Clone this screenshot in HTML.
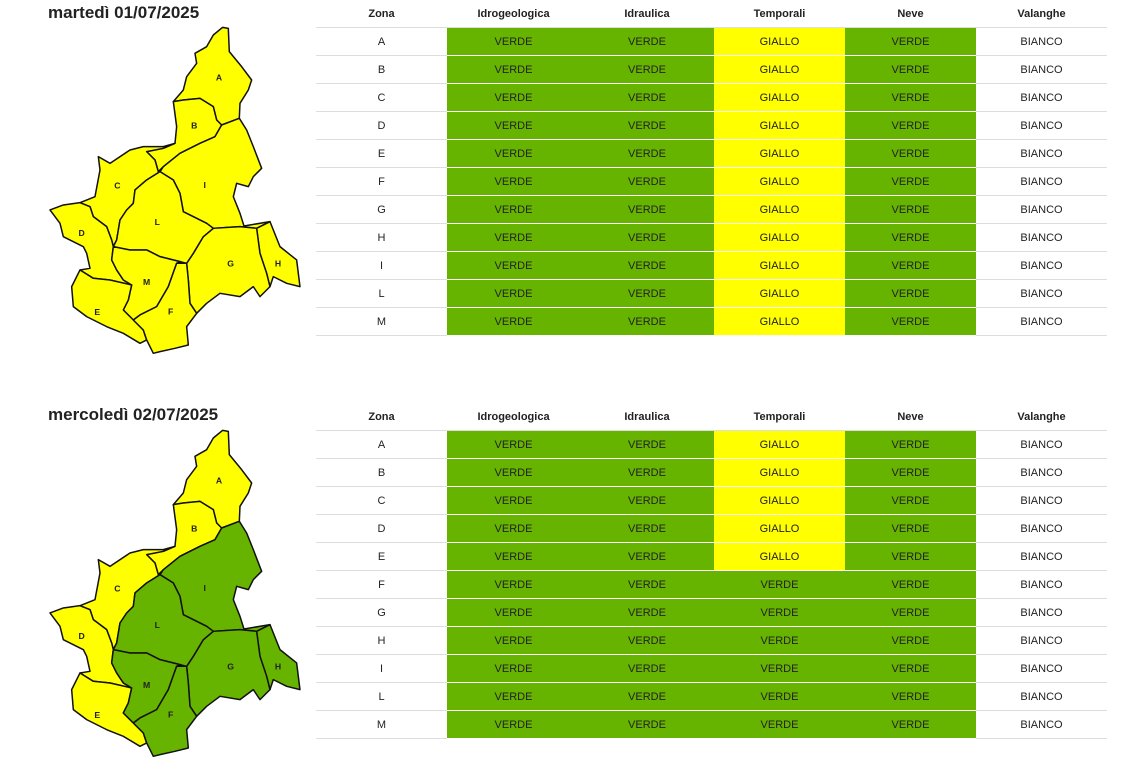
<!DOCTYPE html>
<html><head><meta charset="utf-8"><style>
body{margin:0;width:1131px;height:772px;background:#fff;font-family:"Liberation Sans",sans-serif;position:relative;overflow:hidden}
.t{position:absolute;left:48px;font-weight:bold;font-size:17px;color:#222}
table{position:absolute;left:316px;border-collapse:collapse;table-layout:fixed;width:791px;font-size:11px;color:#222}
th{height:27px;font-weight:bold;font-size:11px;text-align:center;border-bottom:1px solid #ddd;padding:0}
td{height:27px;text-align:center;border-bottom:1px solid #ddd;padding:0}
td.g{background:#66b300;border-bottom:1px solid #fff}
td.y{background:#ffff00;border-bottom:1px solid #fff}
svg{position:absolute;left:0}
</style></head><body>
<div class="t" style="top:3px">martedì 01/07/2025</div>
<div class="t" style="top:405px">mercoledì 02/07/2025</div>

<table style="top:0">
<colgroup><col style="width:131px"><col style="width:133px"><col style="width:134px"><col style="width:131px"><col style="width:131px"><col style="width:131px"></colgroup>
<tr><th>Zona</th><th>Idrogeologica</th><th>Idraulica</th><th>Temporali</th><th>Neve</th><th>Valanghe</th></tr>
<tr><td>A</td><td class="g">VERDE</td><td class="g">VERDE</td><td class="y">GIALLO</td><td class="g">VERDE</td><td>BIANCO</td></tr>
<tr><td>B</td><td class="g">VERDE</td><td class="g">VERDE</td><td class="y">GIALLO</td><td class="g">VERDE</td><td>BIANCO</td></tr>
<tr><td>C</td><td class="g">VERDE</td><td class="g">VERDE</td><td class="y">GIALLO</td><td class="g">VERDE</td><td>BIANCO</td></tr>
<tr><td>D</td><td class="g">VERDE</td><td class="g">VERDE</td><td class="y">GIALLO</td><td class="g">VERDE</td><td>BIANCO</td></tr>
<tr><td>E</td><td class="g">VERDE</td><td class="g">VERDE</td><td class="y">GIALLO</td><td class="g">VERDE</td><td>BIANCO</td></tr>
<tr><td>F</td><td class="g">VERDE</td><td class="g">VERDE</td><td class="y">GIALLO</td><td class="g">VERDE</td><td>BIANCO</td></tr>
<tr><td>G</td><td class="g">VERDE</td><td class="g">VERDE</td><td class="y">GIALLO</td><td class="g">VERDE</td><td>BIANCO</td></tr>
<tr><td>H</td><td class="g">VERDE</td><td class="g">VERDE</td><td class="y">GIALLO</td><td class="g">VERDE</td><td>BIANCO</td></tr>
<tr><td>I</td><td class="g">VERDE</td><td class="g">VERDE</td><td class="y">GIALLO</td><td class="g">VERDE</td><td>BIANCO</td></tr>
<tr><td>L</td><td class="g">VERDE</td><td class="g">VERDE</td><td class="y">GIALLO</td><td class="g">VERDE</td><td>BIANCO</td></tr>
<tr><td>M</td><td class="g">VERDE</td><td class="g">VERDE</td><td class="y">GIALLO</td><td class="g">VERDE</td><td>BIANCO</td></tr>
</table>

<table style="top:403px">
<colgroup><col style="width:131px"><col style="width:133px"><col style="width:134px"><col style="width:131px"><col style="width:131px"><col style="width:131px"></colgroup>
<tr><th>Zona</th><th>Idrogeologica</th><th>Idraulica</th><th>Temporali</th><th>Neve</th><th>Valanghe</th></tr>
<tr><td>A</td><td class="g">VERDE</td><td class="g">VERDE</td><td class="y">GIALLO</td><td class="g">VERDE</td><td>BIANCO</td></tr>
<tr><td>B</td><td class="g">VERDE</td><td class="g">VERDE</td><td class="y">GIALLO</td><td class="g">VERDE</td><td>BIANCO</td></tr>
<tr><td>C</td><td class="g">VERDE</td><td class="g">VERDE</td><td class="y">GIALLO</td><td class="g">VERDE</td><td>BIANCO</td></tr>
<tr><td>D</td><td class="g">VERDE</td><td class="g">VERDE</td><td class="y">GIALLO</td><td class="g">VERDE</td><td>BIANCO</td></tr>
<tr><td>E</td><td class="g">VERDE</td><td class="g">VERDE</td><td class="y">GIALLO</td><td class="g">VERDE</td><td>BIANCO</td></tr>
<tr><td>F</td><td class="g">VERDE</td><td class="g">VERDE</td><td class="g">VERDE</td><td class="g">VERDE</td><td>BIANCO</td></tr>
<tr><td>G</td><td class="g">VERDE</td><td class="g">VERDE</td><td class="g">VERDE</td><td class="g">VERDE</td><td>BIANCO</td></tr>
<tr><td>H</td><td class="g">VERDE</td><td class="g">VERDE</td><td class="g">VERDE</td><td class="g">VERDE</td><td>BIANCO</td></tr>
<tr><td>I</td><td class="g">VERDE</td><td class="g">VERDE</td><td class="g">VERDE</td><td class="g">VERDE</td><td>BIANCO</td></tr>
<tr><td>L</td><td class="g">VERDE</td><td class="g">VERDE</td><td class="g">VERDE</td><td class="g">VERDE</td><td>BIANCO</td></tr>
<tr><td>M</td><td class="g">VERDE</td><td class="g">VERDE</td><td class="g">VERDE</td><td class="g">VERDE</td><td>BIANCO</td></tr>
</table>

<svg width="320" height="772" viewBox="0 0 320 772">
<defs>
<g id="lab" font-family="Liberation Sans, sans-serif" font-weight="bold" font-size="26" fill="#222" text-anchor="middle">
<text x="537" y="182">A</text><text x="463" y="325">B</text><text x="232" y="505">C</text><text x="125" y="648">D</text><text x="172" y="885">E</text><text x="392" y="883">F</text><text x="572" y="740">G</text><text x="714" y="740">H</text><text x="494" y="504">I</text><text x="352" y="615">L</text><text x="320" y="795">M</text>
</g>
</defs>
<g transform="translate(40,20) scale(0.3333)" stroke="#111" stroke-width="4.5" stroke-linejoin="round">
<g fill="#ffff00">
<polygon points="520,45 548,22 565,25 568,95 605,140 635,180 625,210 600,250 598,295 545,315 530,300 520,260 480,235 430,240 400,245 430,210 440,170 470,130 465,100 500,80"/>
<polygon points="400,245 430,240 480,235 520,260 530,300 545,315 525,350 480,370 420,400 370,440 355,455 345,420 320,395 370,385 405,370 410,320"/>
<polygon points="545,315 598,295 620,330 640,380 665,445 640,470 625,500 590,490 580,530 600,580 612,618 690,605 650,625 600,620 520,625 500,610 430,575 420,520 400,480 360,455 370,440 420,400 480,370 525,350"/>
<polygon points="650,625 690,605 720,680 770,720 780,800 740,790 700,770 690,800 680,760 660,700"/>
<polygon points="520,625 600,620 650,625 660,700 680,760 690,800 660,830 640,800 600,830 540,820 500,850 470,880 450,850 445,780 440,730 460,700 490,650"/>
<polygon points="120,548 165,530 180,450 175,410 210,430 270,390 310,380 370,380 405,370 370,385 320,395 345,420 355,455 360,455 320,480 285,510 280,550 260,570 240,600 230,660 220,680 215,660 200,620 160,590 150,560"/>
<polygon points="360,455 400,480 420,520 430,575 500,610 520,625 490,650 460,700 440,730 420,725 360,710 320,690 270,690 220,680 230,660 240,600 260,570 280,550 285,510 320,480"/>
<polygon points="30,570 70,555 120,548 150,560 160,590 200,620 215,660 220,680 215,720 230,750 250,780 275,795 210,780 160,775 120,750 150,745 140,700 130,680 70,650 60,610"/>
<polygon points="220,680 270,690 320,690 360,710 420,725 410,730 385,800 350,860 300,885 280,900 250,870 265,840 275,795 250,780 230,750 215,720"/>
<polygon points="120,750 160,775 210,780 275,795 265,840 250,870 280,900 310,930 320,960 300,970 250,940 200,920 140,890 100,860 95,800"/>
<polygon points="410,730 440,730 445,780 450,850 470,880 440,920 445,975 405,985 360,995 340,1000 320,960 310,930 280,900 300,885 350,860 385,800"/>
</g>
<use href="#lab" stroke="none"/>
</g>
<g transform="translate(40,423) scale(0.3333)" stroke="#111" stroke-width="4.5" stroke-linejoin="round">
<g fill="#ffff00">
<polygon points="520,45 548,22 565,25 568,95 605,140 635,180 625,210 600,250 598,295 545,315 530,300 520,260 480,235 430,240 400,245 430,210 440,170 470,130 465,100 500,80"/>
<polygon points="400,245 430,240 480,235 520,260 530,300 545,315 525,350 480,370 420,400 370,440 355,455 345,420 320,395 370,385 405,370 410,320"/>
<polygon points="120,548 165,530 180,450 175,410 210,430 270,390 310,380 370,380 405,370 370,385 320,395 345,420 355,455 360,455 320,480 285,510 280,550 260,570 240,600 230,660 220,680 215,660 200,620 160,590 150,560"/>
<polygon points="30,570 70,555 120,548 150,560 160,590 200,620 215,660 220,680 215,720 230,750 250,780 275,795 210,780 160,775 120,750 150,745 140,700 130,680 70,650 60,610"/>
<polygon points="120,750 160,775 210,780 275,795 265,840 250,870 280,900 310,930 320,960 300,970 250,940 200,920 140,890 100,860 95,800"/>
</g>
<g fill="#66b300">
<polygon points="545,315 598,295 620,330 640,380 665,445 640,470 625,500 590,490 580,530 600,580 612,618 690,605 650,625 600,620 520,625 500,610 430,575 420,520 400,480 360,455 370,440 420,400 480,370 525,350"/>
<polygon points="650,625 690,605 720,680 770,720 780,800 740,790 700,770 690,800 680,760 660,700"/>
<polygon points="520,625 600,620 650,625 660,700 680,760 690,800 660,830 640,800 600,830 540,820 500,850 470,880 450,850 445,780 440,730 460,700 490,650"/>
<polygon points="360,455 400,480 420,520 430,575 500,610 520,625 490,650 460,700 440,730 420,725 360,710 320,690 270,690 220,680 230,660 240,600 260,570 280,550 285,510 320,480"/>
<polygon points="220,680 270,690 320,690 360,710 420,725 410,730 385,800 350,860 300,885 280,900 250,870 265,840 275,795 250,780 230,750 215,720"/>
<polygon points="410,730 440,730 445,780 450,850 470,880 440,920 445,975 405,985 360,995 340,1000 320,960 310,930 280,900 300,885 350,860 385,800"/>
</g>
<use href="#lab" stroke="none"/>
</g>
</svg>
</body></html>
